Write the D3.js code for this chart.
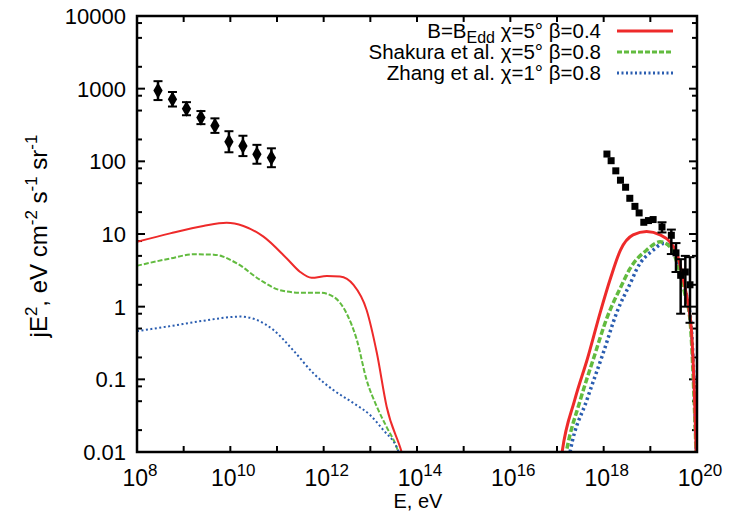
<!DOCTYPE html>
<html><head><meta charset="utf-8">
<script src="https://cdn.jsdelivr.net/npm/d3@7"></script>
<style>
body{margin:0;background:#fff;}
svg{font-family:"Liberation Sans",Arial,Helvetica,sans-serif;}
</style></head>
<body><svg id="c" width="730" height="515"></svg>
<script>
// ---- data ----
const xTickExps = [8,10,12,14,16,18,20];
const yTickVals = [0.01,0.1,1,10,100,1000,10000];
const yTickLabels = ["0.01","0.1","1","10","100","1000","10000"];

// low-energy gamma data (log10 E, value, log error)
const gamE = [8.45,8.76,9.06,9.37,9.67,9.97,10.27,10.57,10.88];
const gamV = [940,715,530,400,310,186,163,125,112];
const gamErr = [0.13,0.10,0.09,0.09,0.10,0.145,0.14,0.13,0.13];

// UHECR data (log10 E, value, lower, upper)
const crE  = [18.07,18.16,18.26,18.36,18.47,18.56,18.67,18.76,18.86,18.96,19.06,19.25,19.45,19.55,19.65,19.75,19.85];
const crV  = [126,102,74,55,44,31,24,19.5,14.5,15.3,15.8,12.5,9.6,5.5,2.7,3.0,2.0];
const crLo = [null,null,null,null,null,null,null,null,null,null,null,10.5,5.3,3.0,0.8,1.0,0.6];
const crHi = [null,null,null,null,null,null,null,null,null,null,null,14.5,11.5,7.5,4.5,5.0,4.8];

// model curves, left part (log10 E, value)
const redLE = [8.0,8.71,9.42,9.92,10.28,10.71,11.21,11.49,11.74,12.07,12.35,12.64,12.92,13.14,13.35,13.67,13.8];
const redLV = [7.8,10.2,12.9,14.3,12.9,9.2,4.6,3.03,2.5,2.64,2.6,1.99,0.9,0.23,0.042,0.01,0.005];
const grnLE = [8.0,8.71,9.21,9.64,10.14,10.64,11.06,11.49,11.92,12.21,12.49,12.71,12.92,13.14,13.35,13.56,13.7];
const grnLV = [3.66,4.6,5.25,5.2,3.95,2.33,1.69,1.56,1.56,1.37,0.81,0.35,0.098,0.042,0.022,0.0118,0.006];
const bluLE = [8.0,8.71,9.42,10.21,10.56,10.92,11.35,11.78,12.21,12.64,13.0,13.28,13.56,13.7];
const bluLV = [0.46,0.54,0.64,0.73,0.66,0.48,0.25,0.121,0.071,0.047,0.032,0.020,0.0118,0.007];

// model curves, right part
const redRE = [17.05,17.11,17.38,17.66,17.93,18.15,18.36,18.63,18.92,19.21,19.42,19.57,19.71,19.82,19.88,19.95,20.0];
const redRV = [0.005,0.01,0.052,0.2,0.85,2.5,6.0,9.7,10.8,9.7,7.8,5.4,2.3,1.0,0.48,0.05,0.004];
const grnRE = [17.12,17.2,17.5,17.79,18.07,18.39,18.56,18.92,19.21,19.42,19.6,19.74,19.85,19.94,20.0];
const grnRV = [0.005,0.01,0.052,0.2,0.7,2.0,3.3,6.0,7.8,6.7,3.5,1.5,0.66,0.05,0.004];
const bluRE = [17.2,17.28,17.64,17.99,18.28,18.6,18.71,19.06,19.28,19.49,19.63,19.78,19.88,19.95,20.0];
const bluRV = [0.005,0.01,0.052,0.23,0.83,2.3,3.3,6.0,7.4,6.4,3.2,1.37,0.5,0.05,0.004];

const legendLabels = [
  [["B=B",0],["Edd",1],[" χ=5° β=0.4",0]],
  [["Shakura et al. χ=5° β=0.8",0]],
  [["Zhang et al. χ=1° β=0.8",0]]
];
const colors = ["#ee2a2a","#62bb3f","#2a5db0"];

// ---- chart ----
const svg = d3.select("#c");
const L=137,R=697,T=16,B=452;
const x = d3.scaleLog().domain([1e8,1e20]).range([L,R]);
const y = d3.scaleLog().domain([0.01,1e4]).range([B,T]);

svg.append("defs").append("clipPath").attr("id","clip")
  .append("rect").attr("x",L).attr("y",T).attr("width",R-L).attr("height",B-T);

// ticks
const majX = d3.range(8,21).map(e=>Math.pow(10,e));
const minY = [];
for(let e=-2;e<4;e++){[2,5,8].forEach(m=>minY.push(m*Math.pow(10,e)));}
const g = svg.append("g");
function tickLines(vals,len,isX){
  vals.forEach(v=>{
    if(isX){
      const px=x(v);
      g.append("line").attr("x1",px).attr("x2",px).attr("y1",B).attr("y2",B-len).attr("stroke","#000").attr("stroke-width",2);
      g.append("line").attr("x1",px).attr("x2",px).attr("y1",T).attr("y2",T+len).attr("stroke","#000").attr("stroke-width",2);
    } else {
      const py=y(v);
      g.append("line").attr("y1",py).attr("y2",py).attr("x1",L).attr("x2",L+len).attr("stroke","#000").attr("stroke-width",2);
      g.append("line").attr("y1",py).attr("y2",py).attr("x1",R).attr("x2",R-len).attr("stroke","#000").attr("stroke-width",2);
    }
  });
}
tickLines(majX,6,true);
tickLines(yTickVals,8,false);
tickLines(minY,5,false);

// tick labels
xTickExps.forEach(e=>{
  const t=svg.append("text").attr("x",x(Math.pow(10,e))+3).attr("y",486).attr("text-anchor","middle").attr("font-size",23);
  t.append("tspan").text("10");
  t.append("tspan").attr("dy",-10).attr("font-size",17).text(e);
});
yTickVals.forEach((v,i)=>{
  svg.append("text").attr("x",126).attr("y",y(v)+8).attr("text-anchor","end").attr("font-size",22).text(yTickLabels[i]);
});

// axis titles
svg.append("text").attr("x",418).attr("y",508).attr("text-anchor","middle").attr("font-size",20).text("E, eV");
const yt = svg.append("text").attr("transform","translate(47,236) rotate(-90)").attr("text-anchor","middle").attr("font-size",24);
[["jE",0],["2",1],[", eV cm",0],["-2",1],[" s",0],["-1",1],[" sr",0],["-1",1]].forEach((p,i)=>{
  const ts=yt.append("tspan").text(p[0]);
  if(p[1]){ts.attr("dy",-10).attr("font-size",17);}
  else if(i>0){ts.attr("dy",10);}
});

// curves
const plot = svg.append("g").attr("clip-path","url(#clip)");
const line = d3.line().x(d=>x(Math.pow(10,d[0]))).y(d=>y(d[1])).curve(d3.curveMonotoneX);
const sets = [
  [redLE,redLV,0,2,null],[grnLE,grnLV,1,2,"5,2"],[bluLE,bluLV,2,2,"2,2.5"],
  [bluRE,bluRV,2,3.5,"2.5,3"],[grnRE,grnRV,1,3.5,"6,2.5"],[redRE,redRV,0,3,null]
];
sets.forEach(s=>{
  const pts = s[0].map((e,i)=>[e,s[1][i]]);
  plot.append("path").attr("d",line(pts)).attr("fill","none")
    .attr("stroke",colors[s[2]]).attr("stroke-width",s[3])
    .attr("stroke-dasharray",s[4]);
});

// gamma data
const dg = svg.append("g");
gamE.forEach((e,i)=>{
  const px=x(Math.pow(10,e)), v=gamV[i], er=gamErr[i];
  const y1=y(v*Math.pow(10,er)), y2=y(v/Math.pow(10,er));
  dg.append("line").attr("x1",px).attr("x2",px).attr("y1",y1).attr("y2",y2).attr("stroke","#000").attr("stroke-width",2.5);
  [y1,y2].forEach(yy=>dg.append("line").attr("x1",px-4.5).attr("x2",px+4.5).attr("y1",yy).attr("y2",yy).attr("stroke","#000").attr("stroke-width",2));
  dg.append("path").attr("d",d3.symbol(d3.symbolDiamond,75)()).attr("transform",`translate(${px},${y(v)})`).attr("fill","#000");
});
// CR data
const dc = svg.append("g").attr("clip-path","url(#clip)");
crE.forEach((e,i)=>{
  const px=x(Math.pow(10,e)), py=y(crV[i]);
  if(crLo[i]!=null){
    const y1=y(crHi[i]), y2=y(crLo[i]);
    dc.append("line").attr("x1",px).attr("x2",px).attr("y1",y1).attr("y2",y2).attr("stroke","#000").attr("stroke-width",2.5);
    [y1,y2].forEach(yy=>dc.append("line").attr("x1",px-4.5).attr("x2",px+4.5).attr("y1",yy).attr("y2",yy).attr("stroke","#000").attr("stroke-width",2));
  }
  dc.append("rect").attr("x",px-3.5).attr("y",py-3.5).attr("width",7).attr("height",7).attr("fill","#000");
});

// frame
svg.append("rect").attr("x",L).attr("y",T).attr("width",R-L).attr("height",B-T).attr("fill","none").attr("stroke","#000").attr("stroke-width",2.5);

// legend
const legY=[31,52,73];
legendLabels.forEach((parts,i)=>{
  const t=svg.append("text").attr("x",601).attr("y",legY[i]+7).attr("text-anchor","end").attr("font-size",20.5);
  parts.forEach((p,j)=>{
    const ts=t.append("tspan").text(p[0]);
    if(p[1]) ts.attr("dy",5).attr("font-size",16);
    else if(j>0 && parts[j-1][1]) ts.attr("dy",-5);
  });
  svg.append("line").attr("x1",617).attr("x2",673).attr("y1",legY[i]).attr("y2",legY[i])
    .attr("stroke",colors[i]).attr("stroke-width",3).attr("stroke-dasharray",i===0?null:(i===1?"5,2":"2,2.5"));
});
</script></body></html>
